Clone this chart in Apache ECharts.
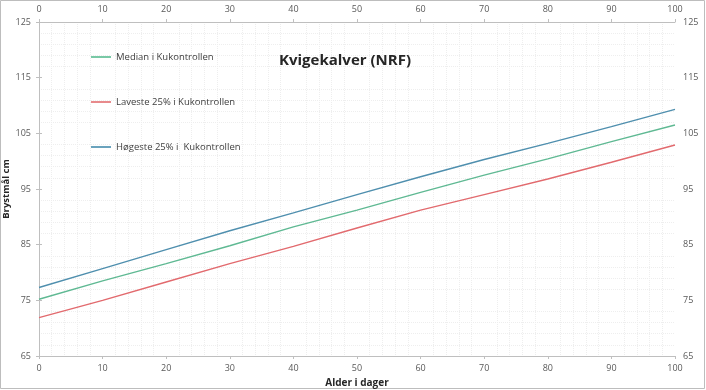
<!DOCTYPE html>
<html>
<head>
<meta charset="utf-8">
<script src="https://cdn.jsdelivr.net/npm/echarts@6/dist/echarts.min.js"></script>
<style>html,body{margin:0;padding:0;background:#fff}#c{width:706px;height:390px}</style>
</head>
<body>
<div id="c"></div>
<script>
const days = [0, 10, 20, 30, 40, 50, 60, 70, 80, 90, 100];
const median = [75.2, 78.5, 81.6, 84.8, 88.2, 91.2, 94.4, 97.5, 100.4, 103.5, 106.5];
const laveste = [71.9, 75.0, 78.3, 81.6, 84.7, 88.0, 91.2, 94.0, 96.8, 99.8, 102.9];
const hogeste = [77.3, 80.7, 84.1, 87.5, 90.7, 94.0, 97.2, 100.3, 103.2, 106.2, 109.3];
const seriesNames = ['Median i Kukontrollen', 'Laveste 25% i Kukontrollen', 'Høgeste 25% i  Kukontrollen'];

const font = '"Open Sans", "Liberation Sans", sans-serif';
const pair = (arr) => days.map((d, i) => [d, arr[i]]);
const axisCommon = {
  axisLine: { show: true, lineStyle: { color: '#bfbfbf' } },
  axisTick: { show: true, length: 3, lineStyle: { color: '#bfbfbf' } },
  axisLabel: { color: '#595959', fontSize: 9, fontFamily: font },
  splitLine: { show: false },
  minorTick: { show: false },
  minorSplitLine: { show: true, lineStyle: { color: '#eeeeee', type: 'dotted' } }
};
const chart = echarts.init(document.getElementById('c'));
chart.setOption({
  backgroundColor: '#fff',
  animation: false,
  title: {
    text: 'Kvigekalver (NRF)', left: 340, top: 48, textAlign: 'center',
    textStyle: { fontSize: 15, fontWeight: 'bold', color: '#262626', fontFamily: font }
  },
  legend: {
    orient: 'vertical', left: 86, top: 47, itemGap: 35, itemWidth: 20, itemHeight: 2,
    icon: 'rect',
    textStyle: { fontSize: 9.5, color: '#404040', fontFamily: font },
    data: seriesNames
  },
  grid: { left: 39, right: 31, top: 22, bottom: 34, containLabel: false, outerBoundsMode: 'none' },
  xAxis: [
    Object.assign({}, axisCommon, {
      type: 'value', min: 0, max: 100, interval: 10, position: 'bottom',
      splitNumber: 10,
      name: 'Alder i dager', nameLocation: 'middle', nameGap: 19,
      nameTextStyle: { fontSize: 10, fontWeight: 'bold', color: '#262626', fontFamily: font }
    }),
    Object.assign({}, axisCommon, {
      type: 'value', min: 0, max: 100, interval: 10, position: 'top',
      minorSplitLine: { show: false }
    })
  ],
  yAxis: [
    Object.assign({}, axisCommon, {
      type: 'value', min: 65, max: 125, interval: 10, position: 'left',
      name: 'Brystmål cm', nameLocation: 'middle', nameGap: 28, nameRotate: 90,
      nameMoveOverlap: false,
      nameTextStyle: { fontSize: 9.5, fontWeight: 'bold', color: '#262626', fontFamily: font }
    }),
    Object.assign({}, axisCommon, {
      type: 'value', min: 65, max: 125, interval: 10, position: 'right',
      minorSplitLine: { show: false }
    })
  ],
  graphic: [{
    type: 'rect', shape: { x: 0.5, y: 0.5, width: 704, height: 388 },
    style: { fill: 'none', stroke: '#bdbdbd', lineWidth: 1 }, silent: true
  }],
  series: [
    { name: seriesNames[0], type: 'line', data: pair(median), showSymbol: false, smooth: false,
      lineStyle: { color: '#5fb993', width: 1.4 }, itemStyle: { color: '#79c9a6' } },
    { name: seriesNames[1], type: 'line', data: pair(laveste), showSymbol: false,
      lineStyle: { color: '#e26a6e', width: 1.4 }, itemStyle: { color: '#e88a8c' } },
    { name: seriesNames[2], type: 'line', data: pair(hogeste), showSymbol: false,
      lineStyle: { color: '#4f8fae', width: 1.4 }, itemStyle: { color: '#6aa3bd' } }
  ]
});
</script>
</body>
</html>
